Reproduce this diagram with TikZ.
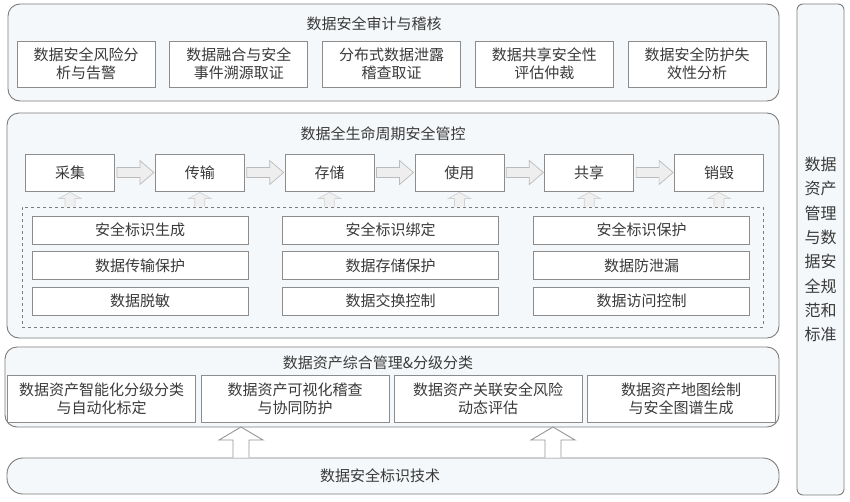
\documentclass[tikz,border=0pt]{standalone}
\usepackage{fontspec}
\usepackage{xcolor}
\usepackage{tikz}
\usetikzlibrary{positioning, calc}
\newfontfamily\cjk{Noto Sans CJK SC}
\definecolor{grpline}{HTML}{7C7C7C}
\definecolor{grpfill}{HTML}{F5F8FA}
\definecolor{boxline}{HTML}{8C8C8C}
\definecolor{txt}{HTML}{3A3A3A}
\definecolor{arrfill}{HTML}{EEEEEE}
\definecolor{arrline}{HTML}{BBBBBB}
\definecolor{lightfill}{HTML}{F0F0F0}
\definecolor{lightline}{HTML}{D2D2D2}
\tikzset{
  group/.style      = {rectangle, rounded corners=12pt, draw=grpline, line width=0.9pt,
                       fill=grpfill},
  title/.style      = {font=\cjk\fontsize{15}{18}\selectfont, text=txt},
  item/.style       = {rectangle, draw=boxline, line width=0.8pt, fill=white,
                       align=center, inner sep=0pt, text=txt,
                       font=\cjk\fontsize{15}{18}\selectfont},
  auditbox/.style   = {item, minimum width=138pt, minimum height=46pt},
  stagebox/.style   = {item, minimum width=89pt, minimum height=37pt},
  guardbox/.style   = {item, minimum width=216pt, minimum height=28pt},
  assetbox/.style   = {item, minimum width=188pt, minimum height=47pt},
  dashframe/.style  = {rectangle, draw=grpline, dashed, line width=0.7pt},
  sidebox/.style    = {rectangle, rounded corners=6pt, draw=grpline, line width=0.9pt,
                       fill=grpfill, align=center, text=txt,
                       font=\cjk\fontsize{16}{24.3}\selectfont},
  stagearrow/.style = {fill=arrfill, draw=arrline, line width=0.7pt, line join=miter},
  feedarrow/.style  = {fill=lightfill, draw=lightline, line width=0.7pt},
  basearrow/.style  = {fill=white, draw=grpline!80, line width=0.9pt},
}

\begin{document}
\begin{tikzpicture}[x=1pt, y=-1pt, node distance=40pt]
  \useasboundingbox (0,0) rectangle (850,501);
  \fill[white] (0,0) rectangle (850,501);

  % audit layer
  \node[group, minimum width=771pt, minimum height=97pt] (audit) at (393.5,52.5) {};
  \node[title] (audittitle) at (374,24) {数据安全审计与稽核};
  \foreach \i/\txt in {0/{数据安全风险分\\析与告警}, 1/{数据融合与安全\\事件溯源取证},
                       2/{分布式数据泄露\\稽查取证}, 3/{数据共享安全性\\评估仲裁},
                       4/{数据安全防护失\\效性分析}}
    \node[auditbox] (a\i) at (86+152.75*\i, 64) {\txt};

  % lifecycle layer
  \node[group, minimum width=772pt, minimum height=225pt] (life) at (393,225.5) {};
  \node[title] (lifetitle) at (383,134) {数据全生命周期安全管控};
  \node[stagebox] (s1) at (70,172.5) {采集};
  \node[stagebox, right=of s1] (s2) {传输};
  \node[stagebox, right=of s2] (s3) {存储};
  \node[stagebox, right=of s3] (s4) {使用};
  \node[stagebox, right=of s4] (s5) {共享};
  \node[stagebox, right=of s5] (s6) {销毁};

  \node[dashframe, minimum width=741pt, minimum height=120pt] (guard) at (392.5,267) {};
  \foreach \n/\x/\y/\txt in {g11/140/230/安全标识生成, g12/140/265.5/数据传输保护,
                             g13/140/301/数据脱敏,
                             g21/390.5/230/安全标识绑定, g22/390.5/265.5/数据存储保护,
                             g23/390.5/301/数据交换控制,
                             g31/641.5/230/安全标识保护, g32/641.5/265.5/数据防泄漏,
                             g33/641.5/301/数据访问控制}
    \node[guardbox] (\n) at (\x,\y) {\txt};

  % asset layer
  \node[group, minimum width=774pt, minimum height=80pt] (asset) at (392,387) {};
  \node[title] (assettitle) at (378,363) {数据资产综合管理\&分级分类};
  \node[assetbox] (b1) at (101.5,398.5) {数据资产智能化分级分类\\与自动化标定};
  \node[assetbox] (b2) at (295,398.5)   {数据资产可视化稽查\\与协同防护};
  \node[assetbox] (b3) at (488,398.5)   {数据资产关联安全风险\\动态评估};
  \node[assetbox] (b4) at (681,398.5)   {数据资产地图绘制\\与安全图谱生成};

  % base layer
  \node[group, rounded corners=16pt, minimum width=772pt, minimum height=36pt] (base) at (393,476) {};
  \node[title] (basetitle) at (380,476) {数据安全标识技术};

  % side column
  \node[sidebox, minimum width=47pt, minimum height=491pt] (side) at (820.5,249.5)
    {数据\\资产\\管理\\与数\\据安\\全规\\范和\\标准};

  % stage flow
  \foreach \a/\b in {s1/s2, s2/s3, s3/s4, s4/s5, s5/s6}
    \filldraw[stagearrow] ($(\a.east)+(2,-5)$) -- ($(\b.west)+(-15,-5)$)
      -- ($(\b.west)+(-15,-12)$) -- ($(\b.west)+(-1,0)$) -- ($(\b.west)+(-15,12)$)
      -- ($(\b.west)+(-15,5)$) -- ($(\a.east)+(2,5)$) -- cycle;

  % feeds from the guard frame
  \foreach \s in {s1, s2, s3, s4, s5, s6}
    \filldraw[feedarrow] ($(\s.south |- guard.north)+(-5,0)$) -- ($(\s.south)+(-5,7)$)
      -- ($(\s.south)+(-11,7)$) -- ($(\s.south)+(0,1)$) -- ($(\s.south)+(11,7)$)
      -- ($(\s.south)+(5,7)$) -- ($(\s.south |- guard.north)+(5,0)$);

  % base to asset layer
  \coordinate (tipA) at (241,427);
  \coordinate (tipB) at (553,427);
  \foreach \t in {tipA, tipB}
    \filldraw[basearrow] ($(\t |- base.north)+(-8,0)$) -- ($(\t)+(-8,13)$)
      -- ($(\t)+(-22,13)$) -- (\t) -- ($(\t)+(22,13)$) -- ($(\t)+(8,13)$)
      -- ($(\t |- base.north)+(8,0)$);
\end{tikzpicture}
\end{document}
